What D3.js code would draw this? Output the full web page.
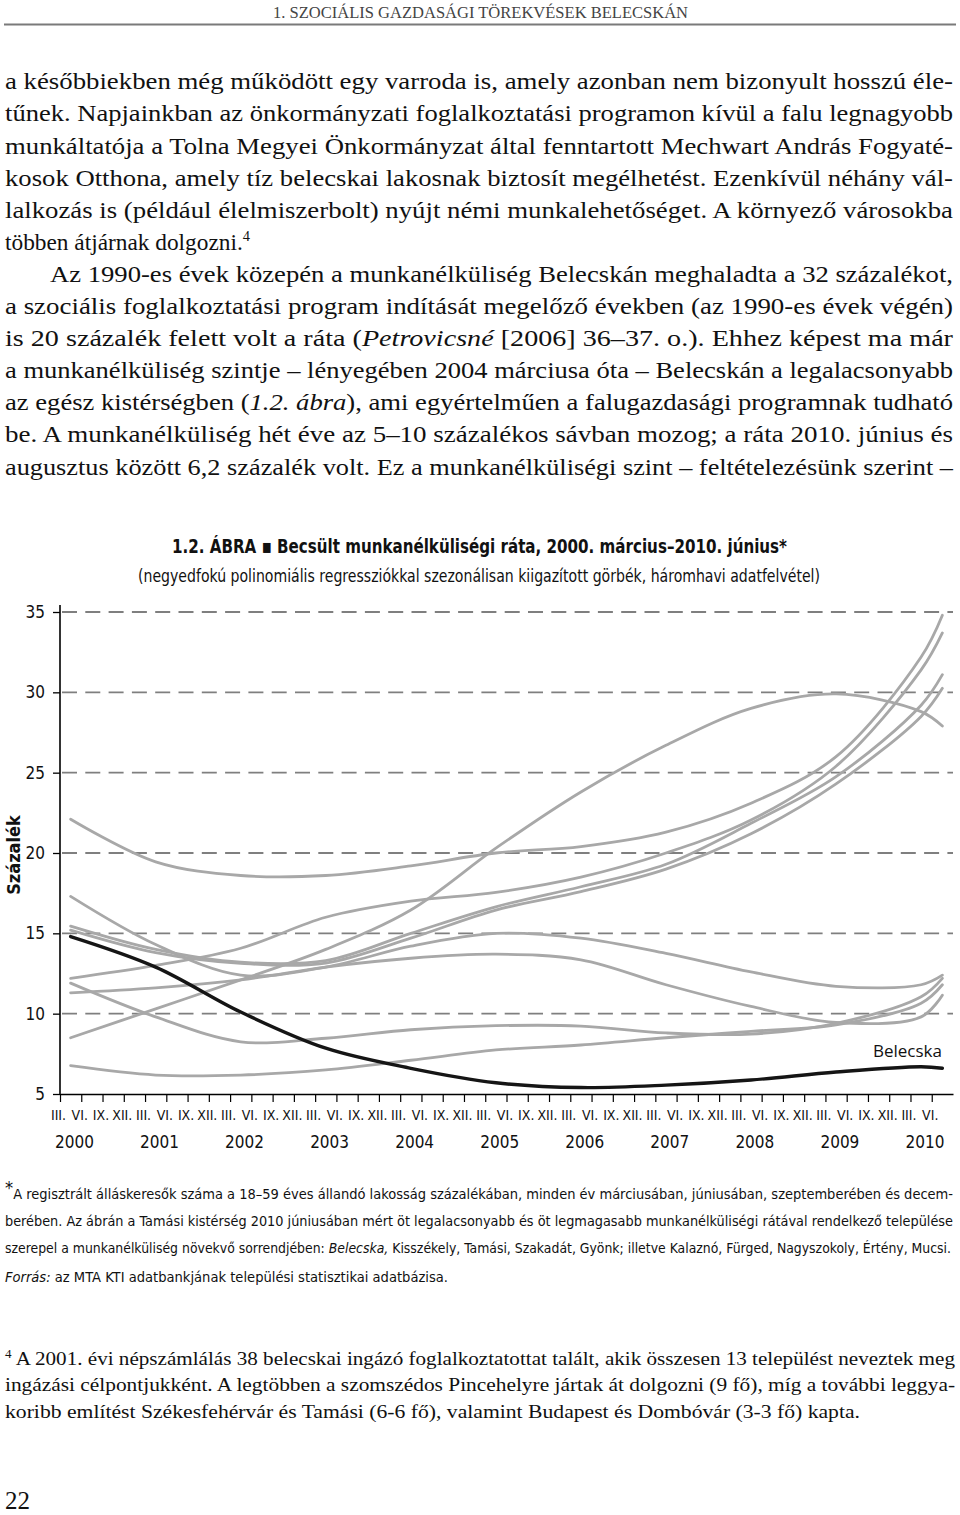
<!DOCTYPE html>
<html><head><meta charset="utf-8">
<script src="https://cdn.jsdelivr.net/npm/d3@7"></script>
<style>
html,body{margin:0;padding:0;background:#fff;}
svg{display:block;}
</style></head>
<body>
<script>
// ---------- DATA ----------
const monthLabels = ["III.","VI.","IX.","XII."];
const years = ["2000","2001","2002","2003","2004","2005","2006","2007","2008","2009","2010"];
// quarter index of each sampled point (0 = 2000 III., 41 = 2010 VI.)
const sampleIdx = [0,4,8,12,16,20,24,28,32,36,40,41];
const belecska    = [14.8,12.9,10.1,7.85,6.6,5.7,5.4,5.55,5.87,6.37,6.7,6.6];
const kisszekely  = [11.3,11.6,12.1,12.9,13.45,13.7,13.35,11.8,10.45,9.45,9.8,11.15];
const tamasi      = [6.76,6.18,6.18,6.5,7.1,7.74,8.05,8.5,8.9,9.3,10.65,11.8];
const szakadat    = [11.9,9.8,8.25,8.47,9.0,9.25,9.23,8.8,8.73,9.4,11.05,12.2];
const gyonk       = [17.3,14.3,12.4,12.9,14.2,15.0,14.7,13.75,12.6,11.7,11.8,12.4];
const kalazno     = [8.5,10.3,12.1,14.0,16.45,20.3,23.8,26.7,29.0,29.9,28.8,27.9];
const furged      = [15.2,13.8,13.13,13.15,14.7,16.45,17.6,19.0,21.2,24.3,28.5,30.25];
const nagyszokoly = [15.45,14.0,13.2,13.3,15.0,16.65,17.9,19.3,21.85,24.75,29.2,31.1];
const erteny      = [12.2,13.0,14.07,16.0,17.0,17.55,18.5,20.0,22.05,25.4,31.4,33.7];
const mucsi       = [22.1,19.45,18.6,18.6,19.2,20.0,20.4,21.3,23.1,26.0,32.2,34.8];
const graySeries = [kisszekely,tamasi,szakadat,gyonk,kalazno,furged,nagyszokoly,erteny,mucsi];
const yTicks = [5,10,15,20,25,30,35];

const headerText = "1. SZOCIÁLIS GAZDASÁGI TÖREKVÉSEK BELECSKÁN";
const bodyLines = [
 "a későbbiekben még működött egy varroda is, amely azonban nem bizonyult hosszú éle-",
 "tűnek. Napjainkban az önkormányzati foglalkoztatási programon kívül a falu legnagyobb",
 "munkáltatója a Tolna Megyei Önkormányzat által fenntartott Mechwart András Fogyaté-",
 "kosok Otthona, amely tíz belecskai lakosnak biztosít megélhetést. Ezenkívül néhány vál-",
 "lalkozás is (például élelmiszerbolt) nyújt némi munkalehetőséget. A környező városokba",
 "többen átjárnak dolgozni.^4^",
 "Az 1990-es évek közepén a munkanélküliség Belecskán meghaladta a 32 százalékot,",
 "a szociális foglalkoztatási program indítását megelőző években (az 1990-es évek végén)",
 "is 20 százalék felett volt a ráta (_Petrovicsné_ [2006] 36–37. o.). Ehhez képest ma már",
 "a munkanélküliség szintje – lényegében 2004 márciusa óta – Belecskán a legalacsonyabb",
 "az egész kistérségben (_1.2. ábra_), ami egyértelműen a falugazdasági programnak tudható",
 "be.  A munkanélküliség hét éve az 5–10 százalékos sávban mozog; a ráta 2010. június és",
 "augusztus között 6,2 százalék volt. Ez a munkanélküliségi szint – feltételezésünk szerint –"
];
const titleText = "1.2. ÁBRA ▪ Becsült munkanélküliségi ráta, 2000. március–2010. június*";
const subtitleText = "(negyedfokú polinomiális regressziókkal szezonálisan kiigazított görbék, háromhavi adatfelvétel)";
const noteLines = [
 "^*^A regisztrált álláskeresők száma a 18–59 éves állandó lakosság százalékában, minden év márciusában, júniusában, szeptemberében és decem-",
 "berében. Az ábrán a Tamási kistérség 2010 júniusában mért öt legalacsonyabb és öt legmagasabb munkanélküliségi rátával rendelkező települése",
 "szerepel a munkanélküliség növekvő sorrendjében: _Belecska,_ Kisszékely, Tamási, Szakadát, Gyönk; illetve Kalaznó, Fürged, Nagyszokoly, Értény, Mucsi.",
 "_Forrás:_ az MTA KTI adatbankjának települési statisztikai adatbázisa."
];
const footLines = [
 "^4^ A 2001. évi népszámlálás 38 belecskai ingázó foglalkoztatottat talált, akik összesen 13 települést neveztek meg",
 "ingázási célpontjukként. A legtöbben a szomszédos Pincehelyre jártak át dolgozni (9 fő), míg a további leggya-",
 "koribb említést Székesfehérvár és Tamási (6-6 fő), valamint Budapest és Dombóvár (3-3 fő) kapta."
];

// ---------- DRAW ----------
const SERIF = "'Liberation Serif','DejaVu Serif',serif";
const COND = "'Liberation Sans Narrow','Arial Narrow','DejaVu Sans Condensed','Liberation Sans',sans-serif";

const svg = d3.select("body").append("svg").attr("width",960).attr("height",1515);

function rich(g, str, x, y, o) {
  const t = g.append("text").attr("x",x).attr("y",y)
    .attr("font-family",o.font).attr("font-size",o.size).attr("fill",o.fill||"#111");
  if (o.weight) t.attr("font-weight",o.weight);
  const parts = str.split(/(_[^_]*_|\^[^^]*\^)/).filter(p=>p.length);
  let shifted = 0;
  parts.forEach(p=>{
    if (p[0]==="_") {
      const s = t.append("tspan").attr("font-style","italic").text(p.slice(1,-1));
      if (shifted) { s.attr("dy",-shifted); shifted=0; }
    } else if (p[0]==="^") {
      t.append("tspan").attr("font-size",o.size*(o.supScale||0.62)).attr("dy",-o.size*0.38).text(p.slice(1,-1));
      shifted = -o.size*0.38;
    } else {
      const s = t.append("tspan").text(p);
      if (shifted) { s.attr("dy",-shifted); shifted=0; }
    }
  });
  if (o.w) t.attr("textLength",o.w).attr("lengthAdjust",o.adj||"spacing");
  if (o.anchor) t.attr("text-anchor",o.anchor);
  return t;
}

// header
rich(svg, headerText, 273, 18, {font:SERIF,size:16,fill:"#444",w:415,adj:"spacingAndGlyphs"});
svg.append("line").attr("x1",4).attr("x2",956).attr("y1",24.5).attr("y2",24.5)
  .attr("stroke","#7a7a7a").attr("stroke-width",2.2);

// body text
bodyLines.forEach((s,i)=>{
  const y = 89.3 + 32.1*i;
  const indent = (i===6) ? 50 : 5;
  const justify = i!==5;
  rich(svg, s, indent, y, {font:SERIF,size:23,fill:"#111",
    w: justify ? 953-indent : 245, adj:"spacingAndGlyphs"});
});

// chart titles
rich(svg, titleText, 172, 553, {font:COND,size:20,weight:"bold",w:615,adj:"spacingAndGlyphs"});
rich(svg, subtitleText, 138, 582, {font:COND,size:17,w:682,adj:"spacingAndGlyphs"});

// chart
const x = d3.scaleLinear().domain([-0.5,41.5]).range([60,953]);
const y = d3.scaleLinear().domain([5,35]).range([1094,612]);
const chart = svg.append("g");

// gridlines
chart.selectAll("line.grid").data(yTicks.filter(v=>v>5)).join("line")
  .attr("class","grid").attr("x1",62).attr("x2",953)
  .attr("y1",d=>y(d)).attr("y2",d=>y(d))
  .attr("stroke","#7f7f7f").attr("stroke-width",1.8).attr("stroke-dasharray","15,8.3");

// y axis
const yAxis = chart.append("g").attr("transform","translate(60,0)")
  .call(d3.axisLeft(y).tickValues(yTicks).tickSize(7).tickSizeOuter(0).tickPadding(8));
yAxis.select(".domain").remove();
yAxis.selectAll(".tick line").attr("stroke","#000").attr("stroke-width",1.3);
yAxis.selectAll(".tick text").attr("font-family",COND).attr("font-size",17).attr("fill","#111");
chart.append("line").attr("x1",60).attr("x2",60).attr("y1",605).attr("y2",1094)
  .attr("stroke","#000").attr("stroke-width",1.6);

// x axis
const qIdx = d3.range(42);
const xAxis = chart.append("g").attr("transform","translate(0,1094)")
  .call(d3.axisBottom(x).tickValues(qIdx.map(i=>i-0.5)).tickSize(8).tickSizeOuter(0).tickFormat(""));
xAxis.select(".domain").attr("stroke","#000").attr("stroke-width",1.6);
xAxis.selectAll(".tick line").attr("stroke","#000").attr("stroke-width",1.2);
chart.selectAll("text.mon").data(qIdx).join("text").attr("class","mon")
  .attr("x",i=>x(i-0.5)-1.5).attr("y",1120).attr("text-anchor","middle")
  .attr("font-family",COND).attr("font-size",14).attr("fill","#111")
  .text(i=>monthLabels[i%4]);
chart.selectAll("text.yr").data(years).join("text").attr("class","yr")
  .attr("x",(d,k)=>x(4*k-0.5)-5).attr("y",1148)
  .attr("font-family",COND).attr("font-size",17).attr("fill","#111").text(d=>d);

// y label
chart.append("text").attr("transform","translate(20,855) rotate(-90)")
  .attr("text-anchor","middle").attr("font-family",COND).attr("font-size",18)
  .attr("font-weight","bold").attr("fill","#111").text("Százalék");

// lines
const line = d3.line().x((d,k)=>x(sampleIdx[k])).y(d=>y(d)).curve(d3.curveCatmullRom.alpha(0.5));
chart.selectAll("path.gray").data(graySeries).join("path").attr("class","gray")
  .attr("d",line).attr("fill","none").attr("stroke","#a8a8a8").attr("stroke-width",2.8)
  .attr("stroke-linecap","round");
chart.append("path").datum(belecska).attr("d",line).attr("fill","none")
  .attr("stroke","#151515").attr("stroke-width",3.4).attr("stroke-linecap","round");
chart.append("text").attr("x",942).attr("y",1057).attr("text-anchor","end")
  .attr("font-family","'Open Sans','DejaVu Sans',sans-serif").attr("font-size",17).attr("fill","#111").text("Belecska");

// chart notes
const noteY = [1199,1226,1253,1282];
const noteW = [948,948,946,443];
noteLines.forEach((s,i)=>{
  rich(svg, s, 5, noteY[i], {font:COND,size:14,w:noteW[i],adj:"spacingAndGlyphs",supScale:1.25});
});

// footnote
const footY = [1365,1391,1418];
const footW = [950,950,855];
footLines.forEach((s,i)=>{
  rich(svg, s, 5, footY[i], {font:SERIF,size:19,w:footW[i],adj:"spacingAndGlyphs"});
});

// page number
svg.append("text").attr("x",5).attr("y",1509).attr("font-family",SERIF).attr("font-size",25)
  .attr("fill","#111").text("22");
</script>
</body></html>
